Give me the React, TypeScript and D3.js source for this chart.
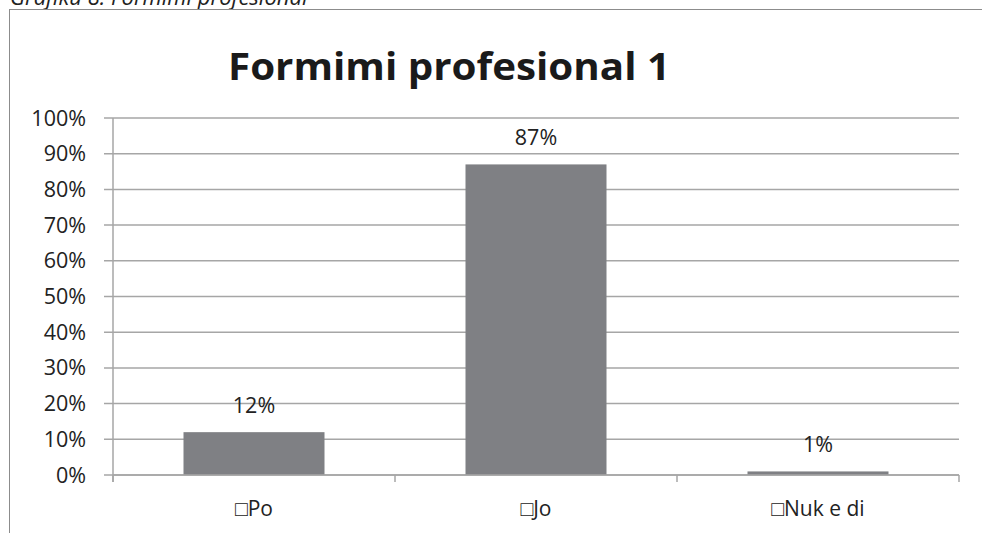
import React from "react";
import * as d3 from "d3";

const categories = ["□Po", "□Jo", "□Nuk e di"];
const values = [0.12, 0.87, 0.01];
const valueLabels = ["12%", "87%", "1%"];
const yTicks = [0, 0.1, 0.2, 0.3, 0.4, 0.5, 0.6, 0.7, 0.8, 0.9, 1.0];
const title = "Formimi profesional 1";
const caption = "Grafiku 8: Formimi profesional";

const W = 982;
const H = 533;
const left = 113;
const right = 959;
const top = 118;
const bottom = 475;

export default function App() {
  const x = d3.scaleBand<string>().domain(categories).range([left, right]).paddingInner(0.5).paddingOuter(0.25);
  const y = d3.scaleLinear().domain([0, 1]).range([bottom, top]);
  const fmt = d3.format(".0%");
  const band = (right - left) / categories.length;
  const boundaries = d3.range(categories.length + 1).map((i) => left + i * band);
  const font = "'Open Sans', sans-serif";
  const grid = "#a6a6a6";

  return (
    <svg width={W} height={H} style={{ position: "absolute", left: 0, top: 0, background: "#fff" }}>
      <rect x={0} y={0} width={W} height={H} fill="#fff" />
      <text x={10} y={5} fontFamily={font} fontStyle="italic" fontSize={22} fill="#222">
        {caption}
      </text>
      <rect x={9.5} y={9.5} width={W + 10} height={H + 10} fill="none" stroke="#8c8c8c" strokeWidth={1} />
      <text x={449} y={80} fontFamily={font} fontWeight="bold" fontSize={37} fill="#1a1a1a" textAnchor="middle" textLength={442} lengthAdjust="spacingAndGlyphs">
        {title}
      </text>
      {yTicks.map((t) => (
        <g key={t}>
          <line x1={104} x2={right} y1={y(t)} y2={y(t)} stroke={grid} strokeWidth={1.5} />
          <text x={86} y={y(t) + 7.5} fontFamily={font} fontSize={21.5} fill="#222" textAnchor="end">
            {fmt(t)}
          </text>
        </g>
      ))}
      <line x1={left} x2={left} y1={top} y2={bottom + 7} stroke={grid} strokeWidth={1.5} />
      {boundaries.map((b, i) => (
        <line key={i} x1={b} x2={b} y1={bottom} y2={bottom + 7} stroke={grid} strokeWidth={1.5} />
      ))}
      {categories.map((c, i) => (
        <g key={c}>
          <rect x={x(c)} y={y(values[i])} width={x.bandwidth()} height={bottom - y(values[i])} fill="#7f8084" />
          <text x={(x(c) as number) + x.bandwidth() / 2} y={y(values[i]) - 19} fontFamily={font} fontSize={21.5} fill="#222" textAnchor="middle">
            {valueLabels[i]}
          </text>
          <text x={(x(c) as number) + x.bandwidth() / 2} y={516} fontFamily={font} fontSize={21} fill="#222" textAnchor="middle">
            {c}
          </text>
        </g>
      ))}
      <line x1={left} x2={right} y1={bottom} y2={bottom} stroke={grid} strokeWidth={1.5} />
    </svg>
  );
}
